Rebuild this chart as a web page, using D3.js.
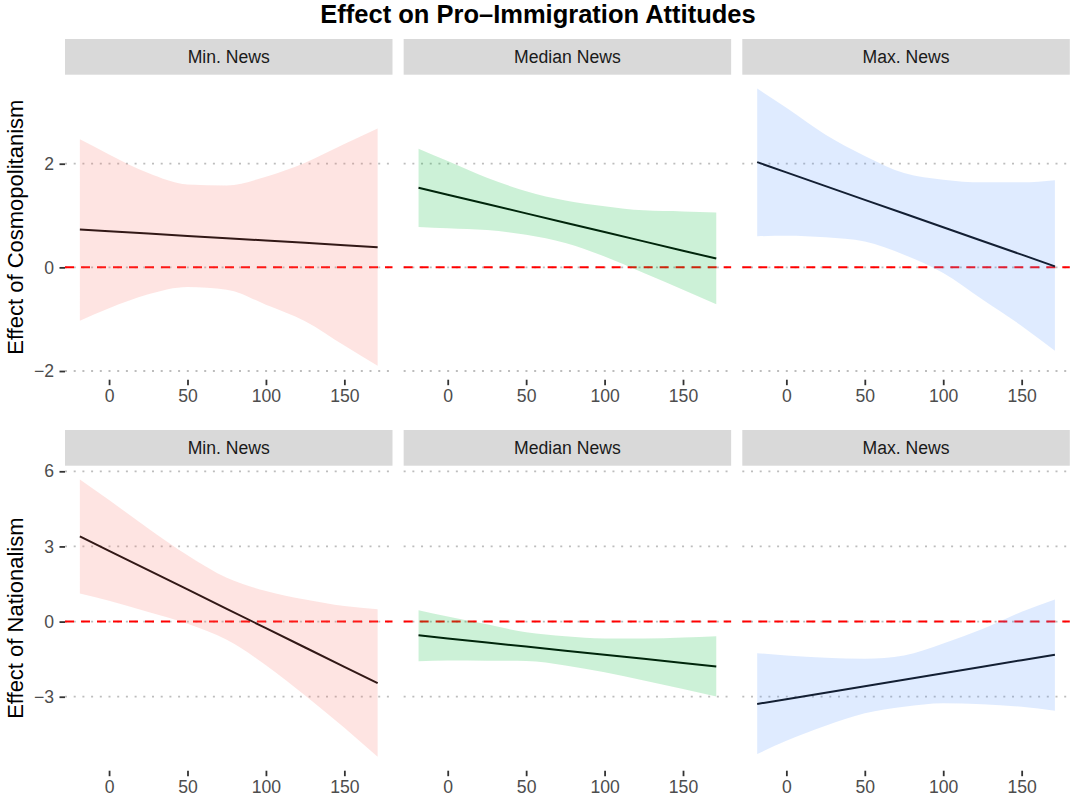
<!DOCTYPE html>
<html>
<head>
<meta charset="utf-8">
<script src="https://cdn.jsdelivr.net/npm/d3@7"></script>
<style>
  html, body { margin: 0; padding: 0; background: #fff; }
  svg { display: block; font-family: "Liberation Sans", Arial, Helvetica, sans-serif; }
</style>
</head>
<body>
<svg id="chart" width="1070" height="804"></svg>
<script>
// ---------------- data ----------------
const title = "Effect on Pro\u2013Immigration Attitudes";
const columns = ["Min. News", "Median News", "Max. News"];
const rowTitles = ["Effect of Cosmopolitanism", "Effect of Nationalism"];
const fills = ["#F8766D", "#00BA38", "#619CFF"];

// moderator values (x)
const xs = [-18.6, 0, 25, 50, 75, 100, 125, 150, 171.2];
const xTicks = [0, 50, 100, 150];
const yTicksTop = [-2, 0, 2];
const yTicksBottom = [-3, 0, 3, 6];

// Cosmopolitanism row
const cosmoMinEst = [0.73, 0.697, 0.652, 0.607, 0.563, 0.518, 0.473, 0.428, 0.39];
const cosmoMinLo  = [-1.03, -0.79, -0.52, -0.38, -0.43, -0.72, -1.04, -1.51, -1.90];
const cosmoMinHi  = [2.47, 2.18, 1.82, 1.60, 1.58, 1.75, 2.02, 2.38, 2.68];

const cosmoMedEst = [1.535, 1.401, 1.221, 1.042, 0.862, 0.682, 0.502, 0.322, 0.17];
const cosmoMedLo  = [0.78, 0.755, 0.72, 0.63, 0.47, 0.21, -0.11, -0.43, -0.71];
const cosmoMedHi  = [2.29, 2.05, 1.73, 1.47, 1.29, 1.18, 1.10, 1.08, 1.06];

const cosmoMaxEst = [2.03, 1.833, 1.568, 1.303, 1.039, 0.774, 0.509, 0.245, 0.02];
const cosmoMaxLo  = [0.60, 0.61, 0.58, 0.50, 0.245, -0.11, -0.62, -1.13, -1.61];
const cosmoMaxHi  = [3.45, 3.08, 2.56, 2.15, 1.82, 1.69, 1.64, 1.64, 1.68];

// Nationalism row
const natMinEst = [3.40, 2.826, 2.054, 1.282, 0.51, -0.262, -1.034, -1.806, -2.46];
const natMinLo  = [1.12, 0.83, 0.38, -0.09, -0.73, -1.74, -2.95, -4.24, -5.40];
const natMinHi  = [5.67, 4.85, 3.72, 2.65, 1.75, 1.22, 0.88, 0.62, 0.49];

const natMedEst = [-0.55, -0.671, -0.835, -0.998, -1.161, -1.325, -1.488, -1.651, -1.79];
const natMedLo  = [-1.58, -1.55, -1.56, -1.57, -1.75, -2.02, -2.35, -2.69, -2.99];
const natMedHi  = [0.45, 0.20, -0.11, -0.43, -0.59, -0.68, -0.68, -0.64, -0.59];

const natMaxEst = [-3.29, -3.097, -2.838, -2.578, -2.319, -2.059, -1.80, -1.54, -1.32];
const natMaxLo  = [-5.29, -4.76, -4.16, -3.66, -3.40, -3.26, -3.30, -3.40, -3.56];
const natMaxHi  = [-1.26, -1.35, -1.44, -1.48, -1.35, -0.88, -0.30, 0.39, 0.88];

const rowsData = [
  { title: rowTitles[0], ticks: yTicksTop, panels: [
      { est: cosmoMinEst, lo: cosmoMinLo, hi: cosmoMinHi },
      { est: cosmoMedEst, lo: cosmoMedLo, hi: cosmoMedHi },
      { est: cosmoMaxEst, lo: cosmoMaxLo, hi: cosmoMaxHi } ] },
  { title: rowTitles[1], ticks: yTicksBottom, panels: [
      { est: natMinEst, lo: natMinLo, hi: natMinHi },
      { est: natMedEst, lo: natMedLo, hi: natMedHi },
      { est: natMaxEst, lo: natMaxLo, hi: natMaxHi } ] }
];

// ---------------- layout ----------------
const svg = d3.select("#chart");
const colX = [65, 403.65, 742.3];
const panelW = 327.5;
const stripTop = [39, 430];
const stripH = 35.7;
const panelH = 305;
const tickColor = "#333333";
const labelColor = "#4d4d4d";

svg.append("text")
  .attr("x", 538).attr("y", 23.3)
  .attr("text-anchor", "middle")
  .attr("font-size", 25.5).attr("font-weight", "bold").attr("fill", "#000")
  .text(title);

function expand(lo, hi) { const r = hi - lo; return [lo - 0.05 * r, hi + 0.05 * r]; }

const xExt = expand(d3.min(xs), d3.max(xs));

rowsData.forEach((row, ri) => {
  const pTop = stripTop[ri] + stripH;
  const allVals = row.panels.flatMap(p => p.lo.concat(p.hi, p.est));
  const yDom = expand(d3.min(allVals), d3.max(allVals));
  const y = d3.scaleLinear().domain(yDom).range([pTop + panelH, pTop]);

  // axis title
  svg.append("text")
    .attr("transform", `translate(22.5,${pTop + panelH / 2}) rotate(-90)`)
    .attr("text-anchor", "middle")
    .attr("font-size", 22).attr("fill", "#000")
    .text(row.title);

  // y axis (left column only)
  const yAxis = svg.append("g").attr("transform", `translate(${colX[0]},0)`)
    .call(d3.axisLeft(y).tickValues(row.ticks).tickSize(5.5).tickPadding(5.5)
      .tickFormat(d => d < 0 ? "\u2212" + Math.abs(d) : String(d)));
  yAxis.select(".domain").remove();
  yAxis.selectAll(".tick line").attr("stroke", tickColor).attr("stroke-width", 1.8);
  yAxis.selectAll(".tick text").attr("fill", labelColor).attr("font-size", 17.6)
    .attr("font-family", "Liberation Sans, Arial, sans-serif");

  row.panels.forEach((p, ci) => {
    const x0 = colX[ci];
    const x = d3.scaleLinear().domain(xExt).range([x0, x0 + panelW]);
    const g = svg.append("g");

    // strip
    g.append("rect").attr("x", x0).attr("y", stripTop[ri])
      .attr("width", panelW).attr("height", stripH).attr("fill", "#d9d9d9");
    g.append("text").attr("x", x0 + panelW / 2).attr("y", stripTop[ri] + stripH / 2)
      .attr("dy", "0.36em").attr("text-anchor", "middle")
      .attr("font-size", 17.6).attr("fill", "#1a1a1a").text(columns[ci]);

    // grid (dotted)
    g.selectAll("line.grid").data(row.ticks).join("line").attr("class", "grid")
      .attr("x1", x0).attr("x2", x0 + panelW)
      .attr("y1", d => y(d)).attr("y2", d => y(d))
      .attr("stroke", "#bdbdbd").attr("stroke-width", 1.8)
      .attr("stroke-dasharray", "2 6.7");

    // zero reference line
    g.append("line").attr("x1", x0).attr("x2", x0 + panelW)
      .attr("y1", y(0)).attr("y2", y(0))
      .attr("stroke", "#ff0000").attr("stroke-width", 2)
      .attr("stroke-dasharray", "9 7");

    // estimate line
    const pts = xs.map((xv, i) => ({ x: xv, est: p.est[i], lo: p.lo[i], hi: p.hi[i] }));
    g.append("path").datum(pts)
      .attr("fill", "none").attr("stroke", "#000").attr("stroke-width", 2)
      .attr("d", d3.line().x(d => x(d.x)).y(d => y(d.est)));

    // confidence ribbon (drawn on top, translucent)
    g.append("path").datum(pts)
      .attr("fill", fills[ci]).attr("fill-opacity", 0.2)
      .attr("d", d3.area().curve(d3.curveMonotoneX)
        .x(d => x(d.x)).y0(d => y(d.lo)).y1(d => y(d.hi)));

    // x axis
    const xAxis = svg.append("g").attr("transform", `translate(0,${pTop + panelH})`)
      .call(d3.axisBottom(x).tickValues(xTicks).tickSize(5.5).tickPadding(4));
    xAxis.select(".domain").remove();
    xAxis.selectAll(".tick line").attr("stroke", tickColor).attr("stroke-width", 1.8);
    xAxis.selectAll(".tick text").attr("fill", labelColor).attr("font-size", 17.6)
      .attr("font-family", "Liberation Sans, Arial, sans-serif");
  });
});
</script>
</body>
</html>
